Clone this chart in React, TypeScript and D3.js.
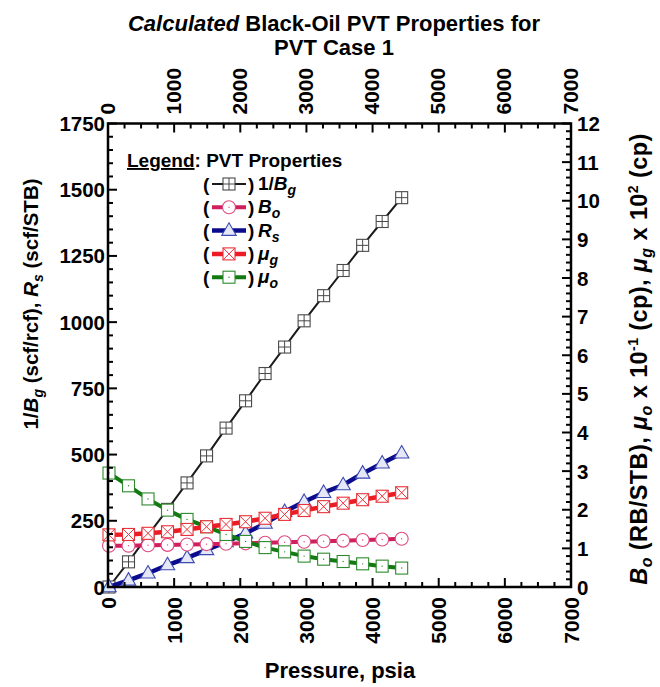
import React from "react";
import * as d3 from "d3";

// Pressure steps (psia) of the calculated PVT table
const pressure = [15, 310, 605, 900, 1195, 1490, 1785, 2080, 2375, 2670, 2965, 3260, 3555, 3850, 4145, 4440];
// 1/Bg (scf/rcf) – left axis
const invBg = [0, 95, 196, 293, 393, 495, 600, 703, 806, 906, 1005, 1100, 1195, 1290, 1380, 1470];
// Rs (scf/STB) – left axis
const rs = [0, 25, 52, 83, 110, 140, 170, 203, 240, 284, 322, 356, 385, 429, 467, 505];
// Bo (RB/STB) – right axis
const bo = [1.07, 1.07, 1.08, 1.09, 1.10, 1.11, 1.12, 1.13, 1.145, 1.16, 1.17, 1.185, 1.20, 1.215, 1.23, 1.25];
// mu_g x 10^2 (cp) – right axis
const mug = [1.35, 1.36, 1.39, 1.43, 1.49, 1.56, 1.62, 1.69, 1.78, 1.88, 1.98, 2.08, 2.17, 2.26, 2.35, 2.44];
// mu_o x 10^-1 (cp) – right axis
const muo = [2.95, 2.62, 2.28, 1.99, 1.75, 1.56, 1.36, 1.18, 1.02, 0.91, 0.80, 0.72, 0.66, 0.60, 0.54, 0.49];

// axis tick values
const xMajor = [0, 1000, 2000, 3000, 4000, 5000, 6000, 7000];
const leftMajor = [0, 250, 500, 750, 1000, 1250, 1500, 1750];
const rightMajor = [0, 1, 2, 3, 4, 5, 6, 7, 8, 9, 10, 11, 12];

const W = 660;
const H = 687;
const left = 108, right = 571, top = 123.5, bottom = 587;
const FONT = "Arial, 'Liberation Sans', Helvetica, sans-serif";

const x = d3.scaleLinear().domain([0, 7000]).range([left, right]);
const yL = d3.scaleLinear().domain([0, 1750]).range([bottom, top]);
const yR = d3.scaleLinear().domain([0, 12]).range([bottom, top]);

type MarkerKind = "grid" | "circle" | "triangle" | "xsquare" | "dotsquare";

function Marker({ kind, cx, cy, color, fill }: { kind: MarkerKind; cx: number; cy: number; color: string; fill: string }) {
  const s = 6;
  if (kind === "circle") {
    return (
      <g>
        <circle cx={cx} cy={cy} r={6.5} fill={fill} stroke={color} strokeWidth={1.1} />
        <circle cx={cx} cy={cy} r={0.7} fill={color} />
      </g>
    );
  }
  if (kind === "triangle") {
    const h = 12.5, hw = 7.2;
    const p = `M${cx},${cy - h * 0.62} L${cx + hw},${cy + h * 0.38} L${cx - hw},${cy + h * 0.38} Z`;
    return <path d={p} fill={fill} stroke={color} strokeWidth={1.1} />;
  }
  const rect = <rect x={cx - s} y={cy - s} width={2 * s} height={2 * s} fill={fill} stroke={color} strokeWidth={1.1} />;
  if (kind === "grid") {
    return (
      <g>
        {rect}
        <line x1={cx - s} x2={cx + s} y1={cy} y2={cy} stroke={color} strokeWidth={1} />
        <line x1={cx} x2={cx} y1={cy - s} y2={cy + s} stroke={color} strokeWidth={1} />
      </g>
    );
  }
  if (kind === "xsquare") {
    return (
      <g>
        {rect}
        <line x1={cx - s} x2={cx + s} y1={cy - s} y2={cy + s} stroke={color} strokeWidth={1} />
        <line x1={cx - s} x2={cx + s} y1={cy + s} y2={cy - s} stroke={color} strokeWidth={1} />
      </g>
    );
  }
  return (
    <g>
      {rect}
      <circle cx={cx} cy={cy} r={0.7} fill={color} />
    </g>
  );
}

interface Series {
  key: string;
  values: number[];
  scale: d3.ScaleLinear<number, number>;
  line: string;
  width: number;
  marker: MarkerKind;
  mcolor: string;
  mfill: string;
}

const series: Series[] = [
  { key: "invBg", values: invBg, scale: yL, line: "#1a1a1a", width: 2, marker: "grid", mcolor: "#4a4a4a", mfill: "#ffffff" },
  { key: "rs", values: rs, scale: yL, line: "#0b0b8e", width: 4.5, marker: "triangle", mcolor: "#3a4ab0", mfill: "#e6e8f8" },
  { key: "bo", values: bo, scale: yR, line: "#cf1f5c", width: 4, marker: "circle", mcolor: "#e04a80", mfill: "#ffffff" },
  { key: "muo", values: muo, scale: yR, line: "#137913", width: 4, marker: "dotsquare", mcolor: "#2c8a2c", mfill: "#ffffff" },
  { key: "mug", values: mug, scale: yR, line: "#ec1c24", width: 4.5, marker: "xsquare", mcolor: "#e8323a", mfill: "#ffffff" },
];

const sub = (s: string, size = 14) => (
  <tspan fontStyle="italic" fontSize={size} dy={5}>{s}</tspan>
);

const legendRows: { marker: MarkerKind; line: string; width: number; mcolor: string; mfill: string; label: React.ReactNode }[] = [
  { marker: "grid", line: "#1a1a1a", width: 2, mcolor: "#4a4a4a", mfill: "#fff", label: <>1/<tspan fontStyle="italic">B</tspan>{sub("g")}</> },
  { marker: "circle", line: "#cf1f5c", width: 4, mcolor: "#e04a80", mfill: "#fff", label: <><tspan fontStyle="italic">B</tspan>{sub("o")}</> },
  { marker: "triangle", line: "#0b0b8e", width: 4.5, mcolor: "#3a4ab0", mfill: "#e6e8f8", label: <><tspan fontStyle="italic">R</tspan>{sub("s")}</> },
  { marker: "xsquare", line: "#ec1c24", width: 4.5, mcolor: "#e8323a", mfill: "#fff", label: <><tspan fontStyle="italic">μ</tspan>{sub("g")}</> },
  { marker: "dotsquare", line: "#137913", width: 4, mcolor: "#2c8a2c", mfill: "#fff", label: <><tspan fontStyle="italic">μ</tspan>{sub("o")}</> },
];

export default function App() {
  const xMinor = d3.range(0, 7001, 250);
  const yLMinor = d3.range(0, 1751, 50);
  const yRMinor = d3.range(0, 60.5, 1).map((v) => v / 5);
  const major = 9, minor = 5;

  return (
    <svg width={W} height={H} style={{ position: "absolute", left: 0, top: 0, background: "#fff" }} fontFamily={FONT} fontWeight="bold">
      {/* title */}
      <text x={334} y={31} textAnchor="middle" fontSize={22}>
        <tspan fontStyle="italic">Calculated</tspan> Black-Oil PVT Properties for
      </text>
      <text x={334} y={55} textAnchor="middle" fontSize={22}>PVT Case 1</text>

      {/* series */}
      {series.map((s) => {
        const pts = s.values.map((v, i) => [x(pressure[i]), s.scale(v)] as [number, number]);
        const path = d3.line()(pts) || "";
        return (
          <g key={s.key}>
            <path d={path} fill="none" stroke={s.line} strokeWidth={s.width} strokeLinejoin="round" />
            {pts.map((p, i) => (
              <Marker key={i} kind={s.marker} cx={p[0]} cy={p[1]} color={s.mcolor} fill={s.mfill} />
            ))}
          </g>
        );
      })}

      {/* frame */}
      <rect x={left} y={top} width={right - left} height={bottom - top} fill="none" stroke="#000" strokeWidth={2.5} />

      {/* bottom and top ticks */}
      {xMinor.map((t) => {
        const len = t % 1000 === 0 ? major : minor;
        return (
          <g key={"x" + t}>
            <line x1={x(t)} x2={x(t)} y1={bottom} y2={bottom - len} stroke="#000" strokeWidth={2} />
            <line x1={x(t)} x2={x(t)} y1={top} y2={top + len} stroke="#000" strokeWidth={2} />
          </g>
        );
      })}
      {xMajor.map((t) => (
        <g key={"xl" + t} fontSize={21}>
          <text transform={`translate(${x(t)},${bottom + 10}) rotate(-90)`} textAnchor="end" dominantBaseline="central">{t}</text>
          <text transform={`translate(${x(t) - 1},${top - 9}) rotate(-90)`} textAnchor="start" dominantBaseline="central">{t}</text>
        </g>
      ))}

      {/* left ticks */}
      {yLMinor.map((t) => (
        <line key={"yl" + t} x1={left} x2={left + (t % 250 === 0 ? major : minor)} y1={yL(t)} y2={yL(t)} stroke="#000" strokeWidth={2} />
      ))}
      {leftMajor.map((t) => (
        <text key={"yll" + t} x={left - 3} y={yL(t)} textAnchor="end" dominantBaseline="central" fontSize={20.5}>{t}</text>
      ))}

      {/* right ticks */}
      {yRMinor.map((t) => {
        const isMajor = Math.abs(t - Math.round(t)) < 1e-6;
        return <line key={"yr" + t} x1={right} x2={right - (isMajor ? major : minor)} y1={yR(t)} y2={yR(t)} stroke="#000" strokeWidth={2} />;
      })}
      {rightMajor.map((t) => (
        <text key={"yrl" + t} x={right + 6} y={yR(t)} textAnchor="start" dominantBaseline="central" fontSize={20.5}>{t}</text>
      ))}

      {/* axis titles */}
      <text x={340} y={678} textAnchor="middle" fontSize={22}>Pressure, psia</text>
      <text transform={`translate(38,304) rotate(-90)`} textAnchor="middle" fontSize={20.5}>
        1/<tspan fontStyle="italic">B</tspan>{sub("g")}<tspan dy={-5}> (scf/rcf), </tspan>
        <tspan fontStyle="italic">R</tspan>{sub("s")}<tspan dy={-5}> (scf/STB)</tspan>
      </text>
      <text transform={`translate(647,359) rotate(-90)`} textAnchor="middle" fontSize={23.5} letterSpacing={0.4}>
        <tspan fontStyle="italic">B</tspan>{sub("o", 16)}<tspan dy={-5}> (RB/STB), </tspan>
        <tspan fontStyle="italic">μ</tspan>{sub("o", 16)}<tspan dy={-5}> x 10</tspan>
        <tspan fontSize={14} dy={-9}>-1</tspan><tspan dy={9}> (cp), </tspan>
        <tspan fontStyle="italic">μ</tspan>{sub("g", 16)}<tspan dy={-5}> x 10</tspan>
        <tspan fontSize={14} dy={-9}>2</tspan><tspan dy={9}> (cp)</tspan>
      </text>

      {/* legend */}
      <text x={127} y={167} fontSize={19}>
        <tspan textDecoration="underline">Legend</tspan>: PVT Properties
      </text>
      {legendRows.map((r, i) => {
        const cy = 184 + i * 23.3;
        return (
          <g key={"lg" + i}>
            <text x={203} y={cy} dominantBaseline="central" fontSize={19}>(</text>
            <line x1={212} x2={246} y1={cy} y2={cy} stroke={r.line} strokeWidth={r.width} />
            <Marker kind={r.marker} cx={229} cy={cy} color={r.mcolor} fill={r.mfill} />
            <text x={248} y={cy} dominantBaseline="central" fontSize={19}>)</text>
            <text x={258} y={cy + 6} fontSize={19}>{r.label}</text>
          </g>
        );
      })}
    </svg>
  );
}
